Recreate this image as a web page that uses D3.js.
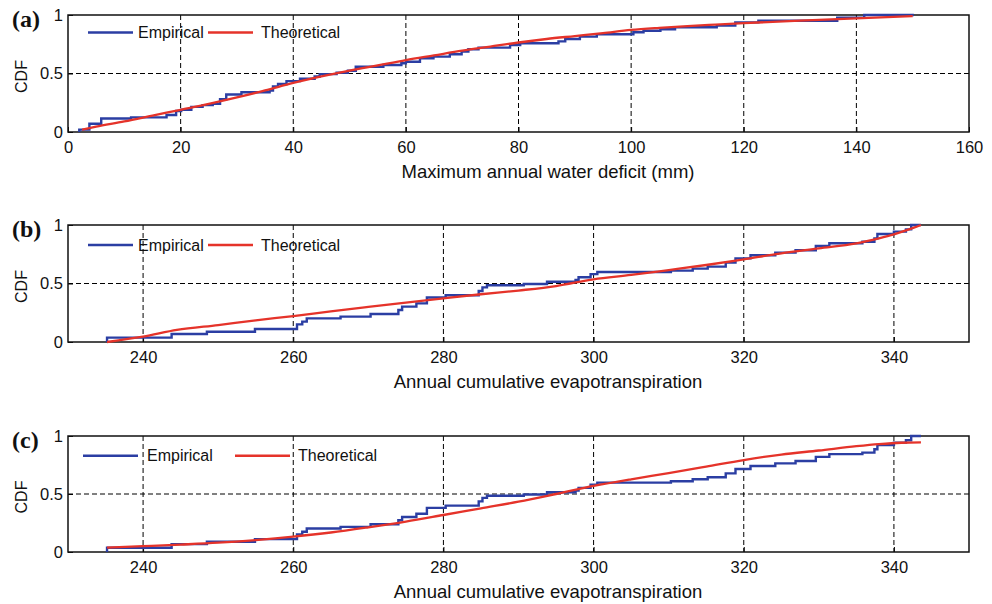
<!DOCTYPE html>
<html>
<head>
<meta charset="utf-8">
<script src="https://cdn.jsdelivr.net/npm/d3@7"></script>
<style>
  body { margin: 0; background: #fff; }
  svg { display: block; font-family: "Liberation Sans", Arial, sans-serif; }
</style>
</head>
<body>
<svg id="chart" width="992" height="604" viewBox="0 0 992 604"></svg>
<script>
// tick values
const ticksA = [0, 20, 40, 60, 80, 100, 120, 140, 160];
const ticksET = [240, 260, 280, 300, 320, 340];
const yTicks = [0, 0.5, 1];

// (a) empirical CDF steps: [x where the level starts, cdf level]
const empA = [
  [2.0, 0.02], [3.8, 0.07], [5.9, 0.115], [11.2, 0.125], [17.5, 0.145],
  [19.2, 0.18], [20.1, 0.19], [21.9, 0.215], [23.9, 0.23], [25.7, 0.24],
  [27.0, 0.28], [28.1, 0.32], [30.8, 0.34], [35.8, 0.355], [36.4, 0.39],
  [37.3, 0.41], [38.8, 0.435], [41.2, 0.455], [43.8, 0.475], [44.7, 0.495],
  [47.7, 0.507], [49.7, 0.524], [51.1, 0.558], [56.0, 0.573], [59.2, 0.587],
  [60.0, 0.601], [62.5, 0.63], [64.9, 0.644], [67.8, 0.664], [69.9, 0.687],
  [71.1, 0.707], [72.9, 0.721], [78.5, 0.744], [80.3, 0.758], [87.1, 0.775],
  [88.3, 0.795], [90.9, 0.815], [93.9, 0.835], [100.4, 0.852], [102.2, 0.866],
  [105.2, 0.878], [107.8, 0.895], [115.2, 0.909], [118.5, 0.937], [122.6, 0.951],
  [136.6, 0.977], [141.4, 1.0]
];
const empAEnd = 150.2;

// (a) theoretical CDF
const theoA = [
  [2.5, 0.02], [5, 0.045], [10, 0.09], [15, 0.14], [20, 0.19], [25, 0.24],
  [30, 0.295], [35, 0.355], [40, 0.42], [45, 0.475], [50, 0.525], [55, 0.57],
  [60, 0.615], [65, 0.655], [70, 0.695], [75, 0.73], [80, 0.765], [85, 0.795],
  [90, 0.82], [95, 0.845], [100, 0.872], [105, 0.89], [110, 0.905], [115, 0.918],
  [120, 0.93], [130, 0.952], [140, 0.972], [150, 0.99]
];

// (b) and (c) share the same empirical sample
const empET = [
  [235.2, 0.037], [243.8, 0.068], [248.5, 0.088], [254.9, 0.111], [260.5, 0.151],
  [261.2, 0.174], [261.8, 0.202], [266.3, 0.217], [270.3, 0.239], [274.0, 0.274],
  [274.5, 0.302], [276.4, 0.33], [277.8, 0.38], [280.3, 0.40], [284.7, 0.436],
  [285.2, 0.467], [285.8, 0.485], [290.7, 0.496], [293.8, 0.515], [297.6, 0.53],
  [298.0, 0.553], [299.6, 0.58], [300.5, 0.598], [310.3, 0.61], [313.2, 0.627],
  [315.2, 0.644], [317.6, 0.678], [318.9, 0.715], [320.9, 0.741], [324.2, 0.764],
  [326.9, 0.784], [329.6, 0.82], [331.4, 0.844], [335.8, 0.857], [337.4, 0.886],
  [337.8, 0.923], [340.0, 0.943], [341.6, 0.963], [342.3, 1.0]
];
const empETEnd = 343.6;

// (b) theoretical CDF
const theoB = [
  [235.2, 0.0], [240, 0.045], [244.5, 0.103], [250, 0.145], [255, 0.185],
  [260, 0.222], [265, 0.262], [270, 0.30], [275, 0.337], [280, 0.373],
  [285, 0.408], [290, 0.44], [295, 0.478], [300, 0.536], [305, 0.573],
  [310, 0.615], [315, 0.658], [320, 0.707], [325, 0.758], [330, 0.80],
  [335, 0.843], [338, 0.886], [340, 0.92], [342, 0.962], [343.6, 1.0]
];

// (c) theoretical CDF
const theoC = [
  [235.2, 0.037], [240, 0.05], [245, 0.064], [250, 0.08], [255, 0.103],
  [260, 0.132], [265, 0.168], [270, 0.213], [275, 0.262], [280, 0.319],
  [285, 0.377], [290, 0.434], [295, 0.50], [300, 0.569], [305, 0.627],
  [310, 0.68], [315, 0.736], [320, 0.793], [325, 0.84], [330, 0.875],
  [335, 0.912], [338, 0.93], [341, 0.942], [343.6, 0.945]
];

const blue = "#2b3ea3";
const red = "#e5332a";

const panels = [
  { tag: "(a)", top: 15, bottom: 132, domain: [0, 160], ticks: ticksA,
    title: "Maximum annual water deficit (mm)",
    emp: empA, empEnd: empAEnd, theo: theoA,
    leg: { y: 17.5, b: [88, 133], e: 138, r: [208, 253], t: 261 } },
  { tag: "(b)", top: 225, bottom: 342, domain: [230, 350], ticks: ticksET,
    title: "Annual cumulative evapotranspiration",
    emp: empET, empEnd: empETEnd, theo: theoB,
    leg: { y: 20, b: [88, 133], e: 138, r: [208, 253], t: 261 } },
  { tag: "(c)", top: 436, bottom: 552, domain: [230, 350], ticks: ticksET,
    title: "Annual cumulative evapotranspiration",
    emp: empET, empEnd: empETEnd, theo: theoC,
    leg: { y: 19.7, b: [83, 138], e: 147, r: [235, 290], t: 298 } }
];

const svg = d3.select("#chart");
const left = 68, right = 969;

panels.forEach(p => {
  const x = d3.scaleLinear().domain(p.domain).range([left, right]);
  const y = d3.scaleLinear().domain([0, 1]).range([p.bottom, p.top]);
  const g = svg.append("g");

  // dashed grid
  g.append("g").selectAll("line")
    .data(p.ticks.filter(t => t > p.domain[0] && t < p.domain[1]))
    .join("line")
    .attr("x1", d => x(d)).attr("x2", d => x(d))
    .attr("y1", p.top).attr("y2", p.bottom)
    .attr("stroke", "#000").attr("stroke-width", 1)
    .attr("stroke-dasharray", "5,3");
  g.append("line")
    .attr("x1", left).attr("x2", right)
    .attr("y1", y(0.5)).attr("y2", y(0.5))
    .attr("stroke", "#000").attr("stroke-width", 1)
    .attr("stroke-dasharray", "5,3");

  // axes
  const xa = g.append("g")
    .attr("transform", `translate(0,${p.bottom})`)
    .call(d3.axisBottom(x).tickValues(p.ticks).tickSizeInner(-5).tickSizeOuter(0).tickPadding(9));
  const ya = g.append("g")
    .attr("transform", `translate(${left},0)`)
    .call(d3.axisLeft(y).tickValues(yTicks).tickFormat(d3.format("")).tickSizeInner(-5).tickSizeOuter(0).tickPadding(5));
  [xa, ya].forEach(a => {
    a.select(".domain").remove();
    a.selectAll("text").attr("font-size", 16.5).attr("fill", "#111")
      .attr("font-family", "Liberation Sans, Arial, sans-serif");
  });

  // plot frame
  g.append("rect")
    .attr("x", left).attr("y", p.top)
    .attr("width", right - left).attr("height", p.bottom - p.top)
    .attr("fill", "none").attr("stroke", "#111").attr("stroke-width", 1.5);

  // empirical step line
  const stepPts = [[p.emp[0][0], 0]].concat(p.emp, [[p.empEnd, p.emp[p.emp.length - 1][1]]]);
  g.append("path")
    .attr("d", d3.line().x(d => x(d[0])).y(d => y(d[1])).curve(d3.curveStepAfter)(stepPts))
    .attr("fill", "none").attr("stroke", blue).attr("stroke-width", 2.4);

  // theoretical curve
  g.append("path")
    .attr("d", d3.line().x(d => x(d[0])).y(d => y(d[1])).curve(d3.curveMonotoneX)(p.theo))
    .attr("fill", "none").attr("stroke", red).attr("stroke-width", 2.3);

  // legend
  const ly = p.top + p.leg.y;
  g.append("line").attr("x1", p.leg.b[0]).attr("x2", p.leg.b[1])
    .attr("y1", ly).attr("y2", ly).attr("stroke", blue).attr("stroke-width", 2.5);
  g.append("text").attr("x", p.leg.e).attr("y", ly + 5.5)
    .attr("font-size", 16).attr("fill", "#111").text("Empirical");
  g.append("line").attr("x1", p.leg.r[0]).attr("x2", p.leg.r[1])
    .attr("y1", ly).attr("y2", ly).attr("stroke", red).attr("stroke-width", 2.5);
  g.append("text").attr("x", p.leg.t).attr("y", ly + 5.5)
    .attr("font-size", 16).attr("fill", "#111").text("Theoretical");

  // titles
  g.append("text")
    .attr("transform", `translate(27,${(p.top + p.bottom) / 2 + 3}) rotate(-90)`)
    .attr("text-anchor", "middle").attr("font-size", 16).attr("fill", "#111")
    .text("CDF");
  g.append("text")
    .attr("x", 548).attr("y", p.bottom + 46)
    .attr("text-anchor", "middle").attr("font-size", 18.5).attr("fill", "#111")
    .text(p.title);
  g.append("text")
    .attr("x", 12).attr("y", p.top + 12)
    .attr("font-family", "Liberation Serif, Times New Roman, serif")
    .attr("font-weight", "bold").attr("font-size", 24).attr("fill", "#111")
    .text(p.tag);
});
</script>
</body>
</html>
